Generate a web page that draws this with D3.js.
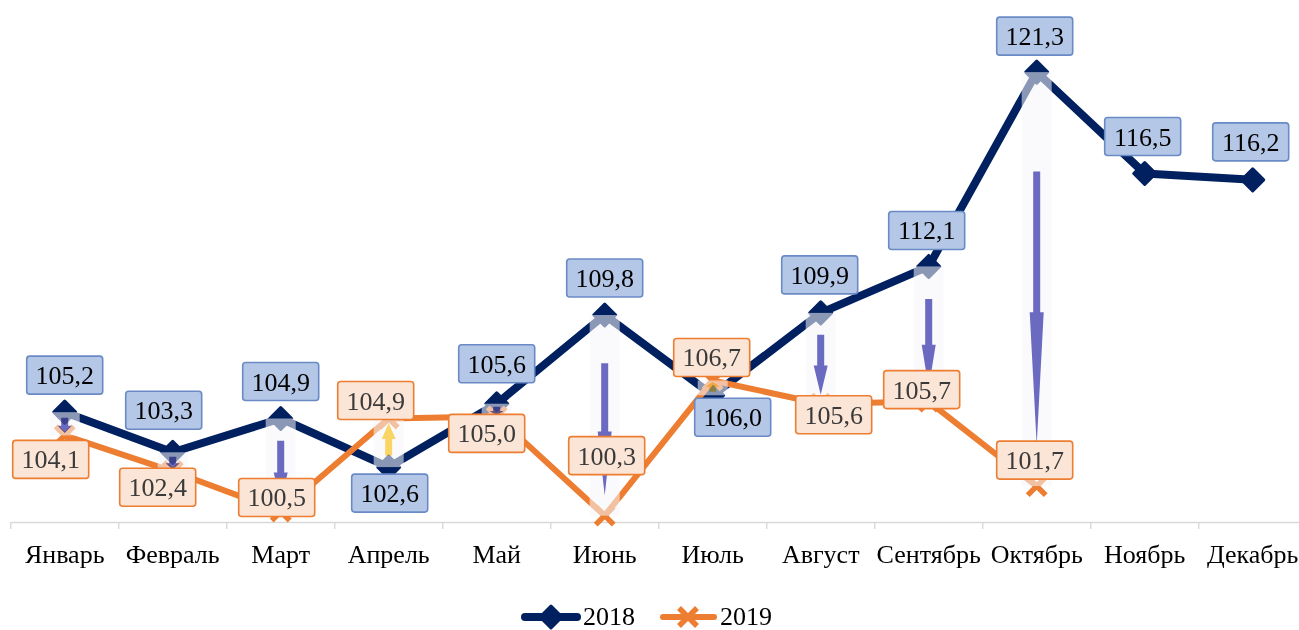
<!DOCTYPE html>
<html><head><meta charset="utf-8">
<script src="https://cdn.jsdelivr.net/npm/d3@7"></script>
<style>body{margin:0;background:#fff}svg{display:block}</style>
</head><body>
<svg id="c" width="1299" height="630"></svg>
<script>
const months = ["Январь","Февраль","Март","Апрель","Май","Июнь","Июль","Август","Сентябрь","Октябрь","Ноябрь","Декабрь"];
const values2018 = [105.2,103.3,104.9,102.6,105.6,109.8,106.0,109.9,112.1,121.3,116.5,116.2];
const values2019 = [104.1,102.4,100.5,104.9,105.0,100.3,106.7,105.6,105.7,101.7];
const seriesNames = ["2018","2019"];
// label placement (px offsets from the point), layout only
const labelShift2018 = [[0,-37],[-9,-42],[0,-37],[1,26],[0,-40],[0,-37],[20,22],[-1,-38],[-2,-36],[-2,-36],[-2,-37],[-2,-38]];
const labelShift2019 = [[-14,24],[-15,16],[-4,-14],[-13,-18],[-10,17],[2,-60],[-1,-23],[13,11],[-7,-12],[-2,-26]];

const svg = d3.select("#c");
const FONT = "'Liberation Serif','Times New Roman',serif";
const x = d3.scaleBand().domain(months).range([10.7, 1306.7]);
const y = d3.scaleLinear().domain([100, 124]).range([522, 15.1]);
const cx = i => x(months[i]) + x.bandwidth()/2;
const navy = "#002060", orange = "#ed7d31";

// axis
const axis = d3.axisBottom(x).tickSize(0).tickFormat(d => d);
const ag = svg.append("g").attr("transform","translate(0,522)").call(axis);
ag.select(".domain").attr("stroke","#d9d9d9").attr("stroke-width",1.5);
ag.selectAll(".tick text").attr("font-family",FONT).attr("font-size",26).attr("fill","#000").attr("dy",0).attr("y",41);
const bounds = months.map(m => x(m)).concat([x(months[11]) + x.bandwidth()]);
svg.append("g").selectAll("line").data(bounds).join("line")
  .attr("x1",d=>d).attr("x2",d=>d).attr("y1",522).attr("y2",529)
  .attr("stroke","#d9d9d9").attr("stroke-width",1.5);

// lines
const line = d3.line().x((d,i)=>cx(i)).y(d=>y(d));
const diamond = "M0,-11L11,0L0,11L-11,0Z";
const cross = "M-9,-9L9,9M-9,9L9,-9";

svg.append("path").datum(values2018).attr("d",line).attr("fill","none")
  .attr("stroke",navy).attr("stroke-width",8).attr("stroke-linejoin","round");
svg.append("g").selectAll("path").data(values2018).join("path")
  .attr("d",diamond).attr("transform",(d,i)=>`translate(${cx(i)},${y(d)})`)
  .attr("fill",navy).attr("stroke",navy).attr("stroke-width",3).attr("stroke-linejoin","round");

svg.append("path").datum(values2019).attr("d",line).attr("fill","none")
  .attr("stroke",orange).attr("stroke-width",6).attr("stroke-linejoin","round");
svg.append("g").selectAll("path").data(values2019).join("path")
  .attr("d",cross).attr("transform",(d,i)=>`translate(${cx(i)},${y(d)})`)
  .attr("fill","none").attr("stroke",orange).attr("stroke-width",5.5);

// up-down bars with arrows
const pairs = values2019.map((v,i)=>({i, a: values2018[i], b: v}));
svg.append("g").selectAll("rect").data(pairs).join("rect")
  .attr("x",d=>cx(d.i)-15).attr("width",30)
  .attr("y",d=>y(Math.max(d.a,d.b))).attr("height",d=>Math.abs(y(d.a)-y(d.b)))
  .attr("fill","#f6f6f9").attr("fill-opacity",0.56);

function arrowPath(d){
  const X = cx(d.i), top = y(Math.max(d.a,d.b)), bot = y(Math.min(d.a,d.b)), h = bot-top;
  const sw = 3.5, hw = 7;
  if (d.b < d.a) {
    const s0 = top+0.24*h, hb = top+0.58*h, tip = top+0.9*h;
    return `M${X-sw},${s0}L${X+sw},${s0}L${X+sw},${hb}L${X+hw},${hb}L${X},${tip}L${X-hw},${hb}L${X-sw},${hb}Z`;
  } else {
    const tip = top+0.1*h, hb = top+0.42*h, s0 = top+0.76*h;
    return `M${X-sw},${s0}L${X+sw},${s0}L${X+sw},${hb}L${X+hw},${hb}L${X},${tip}L${X-hw},${hb}L${X-sw},${hb}Z`;
  }
}
svg.append("g").selectAll("path").data(pairs).join("path")
  .attr("d",arrowPath).attr("fill",d=>d.b<d.a?"#6c6cc4":"#ffd966")
  .style("mix-blend-mode","multiply");

// data labels
const fmt = v => v.toFixed(1).replace(".",",");
function labels(vals, shifts, fill, stroke, color){
  const g = svg.append("g").selectAll("g").data(vals).join("g")
    .attr("transform",(d,i)=>`translate(${cx(i)+shifts[i][0]},${y(d)+shifts[i][1]})`);
  g.append("rect").attr("x",-38).attr("y",-19).attr("width",76).attr("height",38).attr("rx",3)
    .attr("fill",fill).attr("stroke",stroke).attr("stroke-width",1.6);
  g.append("text").attr("text-anchor","middle").attr("y",9).attr("font-family",FONT)
    .attr("font-size",26).attr("fill",color).text(fmt);
}
labels(values2018, labelShift2018, "#b4c7e7", "#6a8ac6", "#000");
labels(values2019, labelShift2019, "#fbe5d6", "#ed7d31", "#3a3a3a");

// legend
const lg = svg.append("g");
lg.append("line").attr("x1",525).attr("x2",577).attr("y1",617).attr("y2",617)
  .attr("stroke",navy).attr("stroke-width",8).attr("stroke-linecap","round");
lg.append("path").attr("d",diamond).attr("transform","translate(551,617)").attr("fill",navy)
  .attr("stroke",navy).attr("stroke-width",3).attr("stroke-linejoin","round");
lg.append("text").attr("x",583).attr("y",625).attr("font-family",FONT).attr("font-size",26).text(seriesNames[0]);
lg.append("line").attr("x1",663).attr("x2",714).attr("y1",617).attr("y2",617)
  .attr("stroke",orange).attr("stroke-width",6).attr("stroke-linecap","round");
lg.append("path").attr("d",cross).attr("transform","translate(688,617)").attr("fill","none")
  .attr("stroke",orange).attr("stroke-width",5.5);
lg.append("text").attr("x",720).attr("y",625).attr("font-family",FONT).attr("font-size",26).text(seriesNames[1]);
</script>
</body></html>
